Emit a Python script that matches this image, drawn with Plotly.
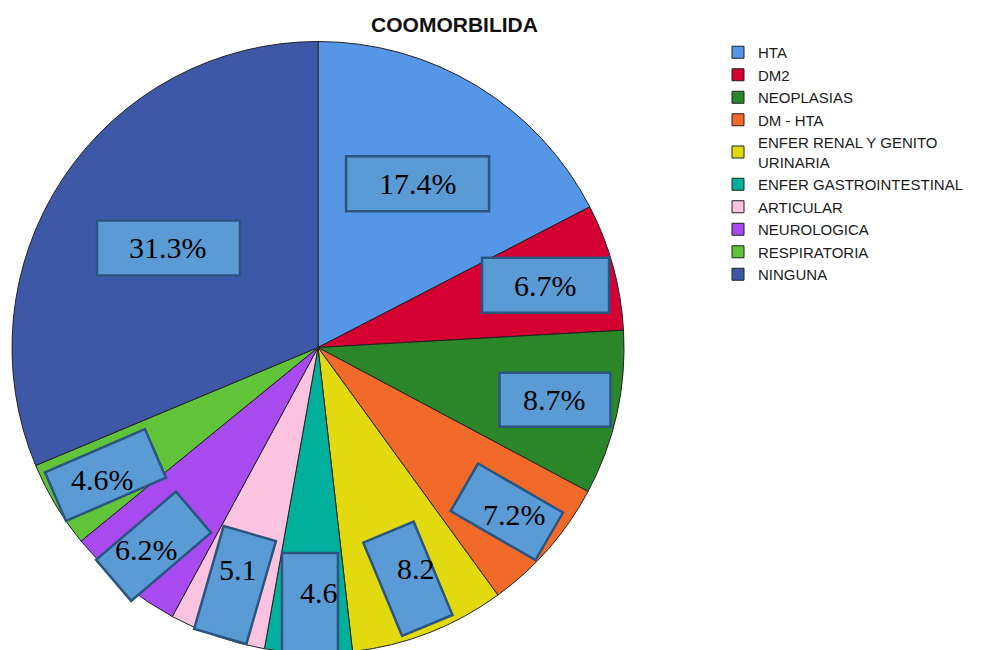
import numpy as np
import plotly.graph_objects as go

# ---------------- data ----------------
categories = ["HTA", "DM2", "NEOPLASIAS", "DM - HTA",
              "ENFER RENAL Y GENITO<br>URINARIA", "ENFER GASTROINTESTINAL",
              "ARTICULAR", "NEUROLOGICA", "RESPIRATORIA", "NINGUNA"]
percentages = [17.4, 6.7, 8.7, 7.2, 8.2, 4.6, 5.1, 6.2, 4.6, 31.3]
label_texts = ["17.4%", "6.7%", "8.7%", "7.2%", "8.2", "4.6", "5.1", "6.2%", "4.6%", "31.3%"]
title_text = "COOMORBILIDA"

# ---------------- style ----------------
slice_colors = ["#5596e6", "#d50032", "#2a8629", "#f26a2a", "#e2d90f",
                "#00b09d", "#fcc3e0", "#a84af0", "#60c33a", "#3e58a8"]
W, H = 993, 650
OFF = 8                                  # page body margin offset
cx, cy, R = 318, 347.5, 306              # pie centre / radius in screen pixels

# label box placement (radius fraction along slice mid-angle), size and rotation
label_rfrac = [0.626, 0.771, 0.793, 0.818, 0.811, 0.835, 0.822, 0.843, 0.81, 0.587]
box_w = [143, 127, 111, 98, 54.5, 56, 54.4, 105, 109, 143]
box_h = [55, 55, 54, 55, 101, 100, 107, 54, 53, 55]
box_ang = [0, 0, 0, 30, -22.6, 0, 16, -40.5, -23.4, 0]
text_dx = [0, 0, 0, 7.7, 7.7, 9, 3, -7.5, -3.3, 0]
text_dy = [0, 0, 0, 2.4, -10.8, -10.5, -15, 3.3, 4, 0]
box_fill = "#5b9bd5"
box_line = "#29557f"


def px(x):
    return (x - OFF) / W


def py(y):
    return 1 - (y - OFF) / H


fig = go.Figure()
fig.add_trace(go.Pie(
    labels=categories,
    values=percentages,
    sort=False,
    direction="clockwise",
    rotation=0,
    textinfo="none",
    hoverinfo="label+percent",
    marker=dict(colors=slice_colors, line=dict(color="#222222", width=1)),
    domain=dict(x=[px(cx - R), px(cx + R)],
                y=[max(0.0, py(cy + R)), py(cy - R)]),
))

# label boxes + texts, positioned at each slice's mid angle
vals = np.array(percentages, dtype=float)
cum = np.cumsum(vals) - vals / 2
mid_deg = cum / vals.sum() * 360.0
shapes = []
annotations = []
for i, t in enumerate(label_texts):
    th = np.deg2rad(mid_deg[i])
    bx = cx + label_rfrac[i] * R * np.sin(th)
    by = cy - label_rfrac[i] * R * np.cos(th)
    a = np.deg2rad(box_ang[i])
    w2, h2 = box_w[i] / 2, box_h[i] / 2
    pts = []
    for lx, ly in [(-w2, -h2), (w2, -h2), (w2, h2), (-w2, h2)]:
        X = bx + lx * np.cos(a) - ly * np.sin(a)
        Y = by + lx * np.sin(a) + ly * np.cos(a)
        pts.append((px(X), py(Y)))
    path = "M " + " L ".join(f"{p[0]:.5f},{p[1]:.5f}" for p in pts) + " Z"
    shapes.append(dict(type="path", xref="paper", yref="paper", path=path,
                       fillcolor=box_fill, line=dict(color=box_line, width=2.5),
                       layer="above"))
    annotations.append(dict(x=px(bx + text_dx[i]), y=py(by + text_dy[i]),
                            xref="paper", yref="paper", text=t, showarrow=False,
                            xanchor="center", yanchor="middle",
                            font=dict(family="Liberation Serif, Times New Roman, serif",
                                      size=30, color="#000000")))

fig.update_layout(
    width=W, height=H,
    margin=dict(l=0, r=0, t=0, b=0),
    paper_bgcolor="white",
    plot_bgcolor="white",
    title=dict(text=title_text, x=px(454.5), xanchor="center",
               y=py(25), yanchor="middle",
               font=dict(family="Liberation Sans, Arial, sans-serif", size=21,
                         color="#111111", weight="bold")),
    legend=dict(x=px(718), xanchor="left", y=py(36), yanchor="top",
                font=dict(family="Liberation Sans, Arial, sans-serif", size=15,
                          color="#1a1a1a"),
                bgcolor="rgba(0,0,0,0)", borderwidth=0, traceorder="normal"),
    shapes=shapes,
    annotations=annotations,
)

fig.write_html("out.html")
